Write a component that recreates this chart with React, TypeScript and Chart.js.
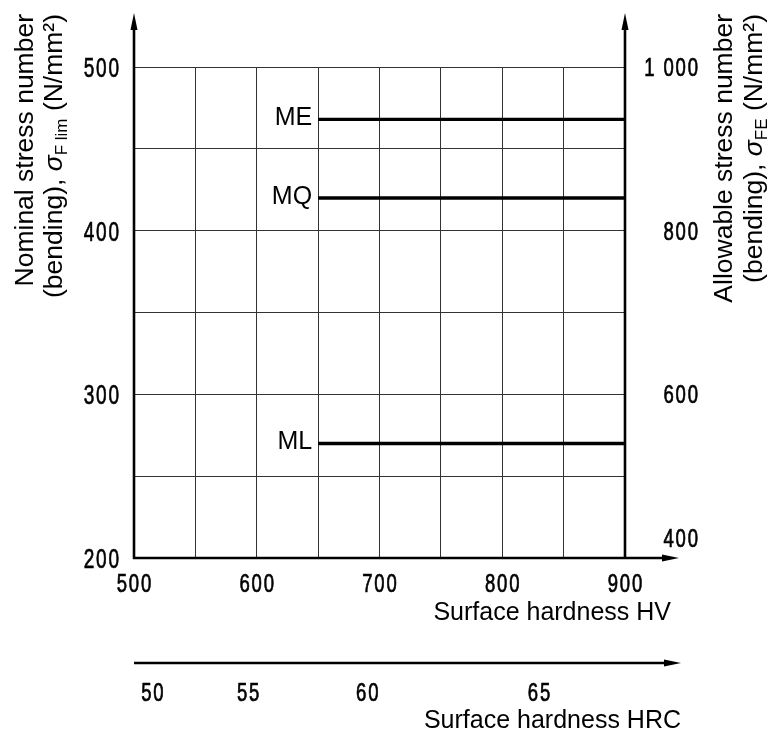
import React, { useEffect, useRef } from "react";
import { Chart, registerables } from "chart.js";

Chart.register(...registerables);

// Axis ranges
const hvRange = [500, 900];
const stressRange = [200, 500];
const allowableRange = [400, 1000];

// Material grade lines: σF lim (N/mm²) over a hardness span (HV)
const gradeLabels = ["ME", "MQ", "ML"];
const gradeStartHV = [650, 650, 650];
const gradeEndHV = [900, 900, 900];
const sigmaFlim = [468, 420, 270];

// Tick labels
const hvTickLabels = [500, 600, 700, 800, 900];
const stressTickLabels = [200, 300, 400, 500];
const allowableTicks = [400, 600, 800, 1000];
const allowableTickText = ["400", "600", "800", "1 000"];
const hrcLabels = ["50", "55", "60", "65"];
const hrcAtHV = [515, 593, 690, 830];

const TEXT_FONT = "'Liberation Sans', Arial, sans-serif";

type Seg = { text: string; font: string; dy?: number };

function drawArrowLine(
  ctx: CanvasRenderingContext2D,
  x1: number,
  y1: number,
  x2: number,
  y2: number,
  lw: number
) {
  const ang = Math.atan2(y2 - y1, x2 - x1);
  const c = Math.cos(ang);
  const s = Math.sin(ang);
  const len = 17;
  const hw = 3.5;
  ctx.beginPath();
  ctx.moveTo(x1, y1);
  ctx.lineTo(x2 - c * len * 0.6, y2 - s * len * 0.6);
  ctx.lineWidth = lw;
  ctx.stroke();
  ctx.beginPath();
  ctx.moveTo(x2, y2);
  ctx.lineTo(x2 - c * len + s * hw, y2 - s * len - c * hw);
  ctx.lineTo(x2 - c * len - s * hw, y2 - s * len + c * hw);
  ctx.closePath();
  ctx.fill();
}

// Narrow technical-style numerals: horizontally compressed sans text, vertically centred on cy
function drawNumber(
  ctx: CanvasRenderingContext2D,
  text: string,
  x: number,
  cy: number,
  size: number,
  sx: number,
  align: CanvasTextAlign
) {
  const gap = 2.5;
  ctx.save();
  ctx.translate(x, cy + size * 0.716 * 0.5);
  ctx.scale(sx, 1);
  ctx.font = `${size}px ${TEXT_FONT}`;
  ctx.textAlign = align;
  ctx.textBaseline = "alphabetic";
  (ctx as any).letterSpacing = `${gap}px`;
  const ox = align === "right" ? gap : align === "center" ? gap / 2 : 0;
  ctx.fillText(text, ox, 0);
  ctx.lineWidth = 0.7;
  ctx.strokeText(text, ox, 0);
  (ctx as any).letterSpacing = "0px";
  ctx.restore();
}

// Draws mixed-font text right-aligned so that it ends at (0, 0) in the current frame
function drawRichRight(ctx: CanvasRenderingContext2D, segs: Seg[]) {
  let total = 0;
  const widths = segs.map((sg) => {
    ctx.font = sg.font;
    const w = ctx.measureText(sg.text).width;
    total += w;
    return w;
  });
  let x = -total;
  ctx.textAlign = "left";
  ctx.textBaseline = "alphabetic";
  segs.forEach((sg, i) => {
    ctx.font = sg.font;
    ctx.fillText(sg.text, x, sg.dy || 0);
    x += widths[i];
  });
}

const decorations = {
  id: "decorations",
  afterDraw(chart: any) {
    const ctx: CanvasRenderingContext2D = chart.ctx;
    const xs = chart.scales.x;
    const ys = chart.scales.y;
    const y2 = chart.scales.y2;
    const area = chart.chartArea;
    ctx.save();
    ctx.strokeStyle = "#000";
    ctx.fillStyle = "#000";
    ctx.lineCap = "butt";

    // Main axes with arrows
    drawArrowLine(ctx, area.left, area.bottom + 1, area.left, 13, 2.6);
    drawArrowLine(ctx, area.right, area.bottom + 1, area.right, 13, 2.6);
    drawArrowLine(ctx, area.left - 1, area.bottom, 679, area.bottom, 2.6);

    // Tick labels
    stressTickLabels.forEach((v) => {
      drawNumber(ctx, String(v), area.left - 15, ys.getPixelForValue(v), 28, 0.68, "right");
    });
    hvTickLabels.forEach((v) => {
      drawNumber(ctx, String(v), xs.getPixelForValue(v), area.bottom + 25, 25, 0.74, "center");
    });
    allowableTicks.forEach((v, i) => {
      let py = y2.getPixelForValue(v);
      if (i === 0) py -= 20;
      drawNumber(ctx, allowableTickText[i], 698, py, 25, 0.74, "right");
    });

    // Grade labels
    ctx.font = `25px ${TEXT_FONT}`;
    ctx.textAlign = "right";
    ctx.textBaseline = "alphabetic";
    gradeLabels.forEach((g, i) => {
      const px = xs.getPixelForValue(gradeStartHV[i]);
      const py = ys.getPixelForValue(sigmaFlim[i]);
      ctx.fillText(g, px - 6, py + 6);
    });

    // HV axis title
    ctx.font = `25px ${TEXT_FONT}`;
    ctx.textAlign = "right";
    ctx.textBaseline = "alphabetic";
    ctx.fillText("Surface hardness HV", 671, 620);

    // HRC secondary scale
    const hrcY = 663;
    drawArrowLine(ctx, area.left, hrcY, 681, hrcY, 2.4);
    hrcLabels.forEach((t, i) => {
      drawNumber(ctx, t, xs.getPixelForValue(hrcAtHV[i]), 692, 25, 0.74, "center");
    });
    ctx.font = `25px ${TEXT_FONT}`;
    ctx.textAlign = "right";
    ctx.textBaseline = "alphabetic";
    ctx.fillText("Surface hardness HRC", 681, 728);

    // Vertical axis titles
    const big = `26.5px ${TEXT_FONT}`;
    const sigma = `italic 26.5px ${TEXT_FONT}`;
    const sub = `17px ${TEXT_FONT}`;
    const titleLines: { x: number; segs: Seg[] }[] = [
      { x: 33, segs: [{ text: "Nominal stress number", font: big }] },
      {
        x: 62,
        segs: [
          { text: "(bending), ", font: big },
          { text: "σ", font: sigma },
          { text: "F lim", font: sub, dy: 5 },
          { text: " (N/mm²)", font: big },
        ],
      },
      { x: 732, segs: [{ text: "Allowable stress number", font: big }] },
      {
        x: 762,
        segs: [
          { text: "(bending), ", font: big },
          { text: "σ", font: sigma },
          { text: "FE", font: sub, dy: 5 },
          { text: " (N/mm²)", font: big },
        ],
      },
    ];
    titleLines.forEach((ln) => {
      ctx.save();
      ctx.translate(ln.x, 14);
      ctx.rotate(-Math.PI / 2);
      drawRichRight(ctx, ln.segs);
      ctx.restore();
    });

    ctx.restore();
  },
};

export default function App() {
  const canvasRef = useRef<HTMLCanvasElement | null>(null);

  useEffect(() => {
    if (!canvasRef.current) return;
    const datasets = gradeLabels.map((g, i) => ({
      label: g,
      data: [
        { x: gradeStartHV[i], y: sigmaFlim[i] },
        { x: gradeEndHV[i], y: sigmaFlim[i] },
      ],
      borderColor: "#000",
      borderWidth: 3.4,
      pointRadius: 0,
      fill: false,
    }));

    const chart = new Chart(canvasRef.current, {
      type: "line",
      data: { datasets },
      options: {
        animation: false,
        responsive: false,
        devicePixelRatio: 1,
        events: [],
        layout: { padding: { left: 0, right: 145, top: 67, bottom: 0 } },
        plugins: {
          legend: { display: false },
          tooltip: { enabled: false },
        },
        scales: {
          x: {
            type: "linear",
            min: hvRange[0],
            max: hvRange[1],
            border: { display: false },
            grid: { color: "#333", lineWidth: 1, drawTicks: false },
            ticks: { stepSize: 50, display: false },
            afterFit: (s: any) => {
              s.height = 735 - 558;
            },
          },
          y: {
            type: "linear",
            position: "left",
            min: stressRange[0],
            max: stressRange[1],
            border: { display: false },
            grid: { color: "#333", lineWidth: 1, drawTicks: false },
            ticks: { stepSize: 50, display: false },
            afterFit: (s: any) => {
              s.width = 134;
            },
          },
          y2: {
            type: "linear",
            position: "right",
            min: allowableRange[0],
            max: allowableRange[1],
            display: false,
          },
        },
      },
      plugins: [decorations],
    } as any);
    return () => chart.destroy();
  }, []);

  return (
    <div style={{ position: "absolute", left: 0, top: 0, width: 770, height: 735, background: "#fff" }}>
      <canvas ref={canvasRef} width={770} height={735} />
    </div>
  );
}
